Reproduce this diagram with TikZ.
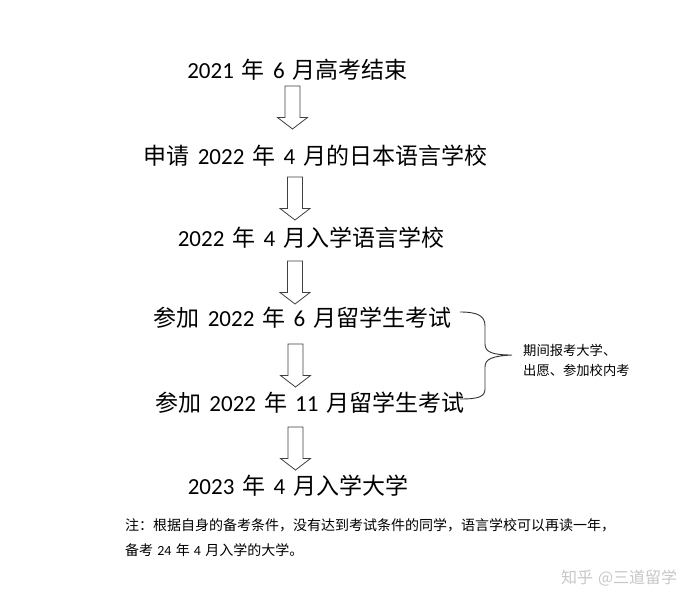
\documentclass[tikz,border=0pt]{standalone}
\usepackage{fontspec}
\setmainfont{Noto Sans CJK SC}
\newfontfamily\lat{Carlito}
\newcommand\gp{\hspace{0.35em}}
\tikzset{
  stepline/.style={font=\fontsize{23}{27}\selectfont, inner sep=0pt, text=black},
  arrowline/.style={draw=black!75, line width=0.8pt, fill=white, line join=miter},
  bracel/.style={draw=black!80, line width=0.9pt},
  smalltext/.style={font=\fontsize{13.3}{20}\selectfont, inner sep=0pt, align=left, anchor=west},
  notetext/.style={font=\fontsize{14}{25}\selectfont, inner sep=0pt, anchor=west},
  wmark/.style={font=\fontsize{16}{18}\selectfont, inner sep=0pt, anchor=west, text=black!22},
  blockarrow/.pic={\draw[arrowline] (-7.5,0) -- (7.5,0) -- (7.5,31.5) -- (15,31.5) -- (0,43) -- (-15,31.5) -- (-7.5,31.5) -- cycle;}
}
\begin{document}
\begin{tikzpicture}[x=1pt,y=-1pt]
\useasboundingbox[fill=white] (0,0) rectangle (686,613);
\node[stepline] (s1) at (297.5,70) {{\lat 2021}\gp 年\gp{\lat 6}\gp 月高考结束};
\node[stepline] (s2) at (315.5,156) {申请\gp{\lat 2022}\gp 年\gp{\lat 4}\gp 月的日本语言学校};
\node[stepline] (s3) at (311,238) {{\lat 2022}\gp 年\gp{\lat 4}\gp 月入学语言学校};
\node[stepline] (s4) at (302.5,318) {参加\gp{\lat 2022}\gp 年\gp{\lat 6}\gp 月留学生考试};
\node[stepline] (s5) at (310,403) {参加\gp{\lat 2022}\gp 年\gp{\lat 11}\gp 月留学生考试};
\node[stepline] (s6) at (298,486) {{\lat 2023}\gp 年\gp{\lat 4}\gp 月入学大学};

\pic (a1) at (292.5,86) {blockarrow};
\pic (a2) at (295,177) {blockarrow};
\pic (a3) at (295,261) {blockarrow};
\pic (a4) at (295.5,344) {blockarrow};
\pic (a5) at (295.5,427) {blockarrow};

\coordinate (bt) at (460,312);
\coordinate (bb) at (460,399);
\coordinate (btip) at (512,355);
\draw[bracel] (bt) .. controls (478,312) and (485,316) .. (485,326) -- (485,344)
  .. controls (485,352) and (492,355) .. (btip)
  .. controls (492,356) and (485,359) .. (485,367) -- (485,389)
  .. controls (485,397) and (478,399) .. (bb);

\node[smalltext] (lab) at (523,360) {期间报考大学、\\出愿、参加校内考};

\node[notetext] (n1) at (125,525) {注：根据自身的备考条件，没有达到考试条件的同学，语言学校可以再读一年，};
\node[notetext] (n2) at (125,550) {备考\hspace{0.3em}{\lat 24}\hspace{0.3em}年\hspace{0.3em}{\lat 4}\hspace{0.3em}月入学的大学。};

\node[wmark] (wm) at (561,578) {知乎\hspace{0.3em}@三道留学};
\end{tikzpicture}
\end{document}
